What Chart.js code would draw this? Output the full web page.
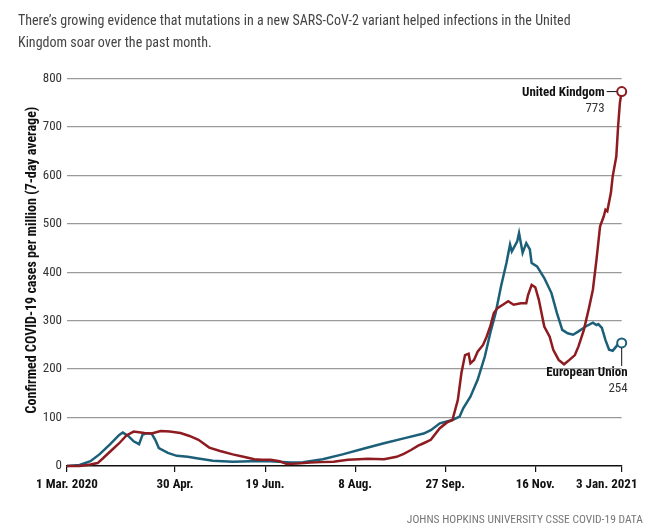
<!DOCTYPE html>
<html>
<head>
<meta charset="utf-8">
<script src="https://cdn.jsdelivr.net/npm/chart.js@4/dist/chart.umd.min.js"></script>
<style>
  body { margin: 0; background: #fff; }
  #wrap { position: relative; width: 658px; height: 532px; }
  #chart { position: absolute; left: 0; top: 0; }
  .note { position: absolute; font-family: 'Liberation Sans Narrow', 'Roboto Condensed', 'DejaVu Sans Condensed', sans-serif; }
  #title { left: 18px; top: 9px; width: 630px; font-size: 14px; line-height: 22px; color: #444; }
  #source { right: 15px; top: 512px; font-size: 11.5px; color: #777; }
</style>
</head>
<body>
<div id="wrap">
  <canvas id="chart" width="658" height="532"></canvas>
  <div id="title" class="note">There’s growing evidence that mutations in a new SARS-CoV-2 variant helped infections in the United<br>Kingdom soar over the past month.</div>
  <div id="source" class="note">JOHNS HOPKINS UNIVERSITY CSSE COVID-19 DATA</div>
</div>
<script>
// days since 1 Mar. 2020
const tickDays = [0, 60, 110, 160, 210, 260, 308];
const tickLabels = ['1 Mar. 2020', '30 Apr.', '19 Jun.', '8 Aug.', '27 Sep.', '16 Nov.', '3 Jan. 2021'];
const yTicks = [0, 100, 200, 300, 400, 500, 600, 700, 800];

const ukDays = [0, 7, 13, 17, 20, 24, 29, 33, 37, 43, 47, 52, 57, 63, 68, 73, 79, 85, 92, 98,
  104, 108, 113, 118, 122, 128, 135, 141, 148, 156, 162, 167, 176, 183, 187, 191, 195, 198, 202, 207,
  211, 214, 217, 219, 221, 223, 224, 226, 228, 231, 233, 235, 237, 239, 242, 245, 248, 252, 255, 256,
  258, 260, 262, 265, 268, 270, 273, 276, 279, 282, 284, 287, 290, 292, 294, 296, 298, 299, 300, 302,
  303, 305, 306, 307, 308];
const ukCases = [0, 0, 3, 6, 16, 30, 47, 63, 71, 68, 67, 72, 71, 68, 62, 54, 38, 31, 24, 19,
  14, 13, 13, 10, 4, 5, 7, 8, 9, 13, 14, 15, 14, 19, 25, 33, 42, 47, 54, 78,
  90, 95, 136, 192, 229, 232, 212, 219, 236, 250, 267, 288, 316, 326, 333, 340, 333, 336, 336, 353,
  374, 369, 343, 288, 267, 240, 219, 210, 219, 229, 247, 281, 329, 364, 426, 495, 515, 529, 526, 564,
  598, 639, 701, 750, 773];

const euDays = [0, 7, 13, 18, 24, 29, 31, 34, 37, 40, 42, 44, 47, 49, 51, 56, 61, 67, 72, 81,
  92, 102, 113, 124, 131, 142, 153, 165, 176, 187, 198, 202, 207, 214, 218, 220, 224, 228, 232, 235,
  238, 241, 244, 246, 247, 250, 251, 253, 255, 257, 258, 261, 265, 269, 272, 275, 278, 281, 284, 288,
  292, 294, 295, 297, 299, 301, 303, 305, 306, 308];
const euCases = [0, 2, 10, 24, 45, 64, 69, 62, 51, 45, 65, 67, 67, 54, 37, 27, 21, 19, 16, 11,
  9, 10, 10, 7, 8, 14, 24, 36, 47, 57, 67, 74, 88, 95, 102, 119, 143, 178, 226, 274,
  316, 371, 419, 457, 443, 464, 481, 440, 460, 447, 419, 412, 388, 357, 316, 281, 274, 271, 278, 288,
  296, 291, 293, 285, 260, 240, 238, 247, 252, 254];

const FONT = "'Liberation Sans Narrow', 'Roboto Condensed', 'DejaVu Sans Condensed', sans-serif";
const ukColor = '#8e1b20';
const euColor = '#1b5f79';

function lastPoint(ctx) {
  return ctx.dataIndex === ctx.dataset.data.length - 1 ? 4.5 : 0;
}

// end-of-line labels and the rotated y title
const annotations = {
  id: 'annotations',
  afterDatasetsDraw(chart) {
    const ctx = chart.ctx;
    const xs = chart.scales.x, ys = chart.scales.y;
    ctx.save();

    const ukX = xs.getPixelForValue(ukDays[ukDays.length - 1]);
    const ukY = ys.getPixelForValue(ukCases[ukCases.length - 1]);
    ctx.strokeStyle = '#111';
    ctx.lineWidth = 1;
    ctx.beginPath();
    ctx.moveTo(ukX - 15, ukY);
    ctx.lineTo(ukX - 5, ukY);
    ctx.stroke();
    ctx.textAlign = 'right';
    ctx.textBaseline = 'middle';
    ctx.fillStyle = '#111';
    ctx.font = 'bold 13px ' + FONT;
    ctx.fillText(chart.data.datasets[0].label, ukX - 17, ukY + 1);
    ctx.fillStyle = '#333';
    ctx.font = '13px ' + FONT;
    ctx.fillText(String(ukCases[ukCases.length - 1]), ukX - 17, ukY + 17);

    const euX = xs.getPixelForValue(euDays[euDays.length - 1]);
    const euY = ys.getPixelForValue(euCases[euCases.length - 1]);
    ctx.beginPath();
    ctx.moveTo(euX, euY + 5);
    ctx.lineTo(euX, euY + 23);
    ctx.stroke();
    ctx.fillStyle = '#111';
    ctx.font = 'bold 13px ' + FONT;
    ctx.fillText(chart.data.datasets[1].label, euX + 6, euY + 30);
    ctx.fillStyle = '#333';
    ctx.font = '13px ' + FONT;
    ctx.fillText(String(euCases[euCases.length - 1]), euX + 6, euY + 46);

    ctx.translate(32, 260);
    ctx.rotate(-Math.PI / 2);
    ctx.textAlign = 'center';
    ctx.fillStyle = '#111';
    ctx.font = 'bold 14px ' + FONT;
    ctx.fillText('Confirmed COVID-19 cases per million (7-day average)', 0, 0);
    ctx.restore();
  }
};

new Chart(document.getElementById('chart'), {
  type: 'line',
  data: {
    datasets: [{
      label: 'United Kindgom',
      data: ukDays.map((d, i) => ({ x: d, y: ukCases[i] })),
      borderColor: ukColor,
      borderWidth: 2.5,
      pointRadius: lastPoint,
      pointBorderWidth: 2,
      pointBorderColor: ukColor,
      pointBackgroundColor: '#fff',
      tension: 0,
      clip: false
    }, {
      label: 'European Union',
      data: euDays.map((d, i) => ({ x: d, y: euCases[i] })),
      borderColor: euColor,
      borderWidth: 2.5,
      pointRadius: lastPoint,
      pointBorderWidth: 2,
      pointBorderColor: euColor,
      pointBackgroundColor: '#fff',
      tension: 0,
      clip: false
    }]
  },
  options: {
    responsive: false,
    animation: false,
    layout: { padding: { top: 78.5, right: 36.3, left: 0, bottom: 0 } },
    plugins: { legend: { display: false }, tooltip: { enabled: false } },
    scales: {
      x: {
        type: 'linear',
        min: 0,
        max: 308,
        afterBuildTicks: scale => { scale.ticks = tickDays.map(v => ({ value: v })); },
        afterFit: scale => { scale.height = 66; scale.paddingLeft = 0; scale.paddingRight = 0; },
        grid: { drawOnChartArea: false, drawTicks: true, tickLength: 6, color: '#111', lineWidth: 1.2 },
        border: { display: true, color: '#111', width: 1.5 },
        ticks: {
          maxRotation: 0,
          autoSkip: false,
          padding: 5,
          color: '#111',
          font: { family: FONT, size: 13, weight: 'bold' },
          callback: (v, i) => i === tickLabels.length - 1 ? tickLabels[i] + '\u00a0'.repeat(10) : tickLabels[i]
        }
      },
      y: {
        min: 0,
        max: 800,
        afterBuildTicks: scale => { scale.ticks = yTicks.map(v => ({ value: v })); },
        afterFit: scale => { scale.width = 67; },
        grid: {
          drawTicks: false,
          color: ctx => ctx.tick && ctx.tick.value === 0 ? 'rgba(0,0,0,0)' : '#9a9a9a',
          lineWidth: 1.3
        },
        border: { display: false },
        ticks: {
          padding: 5,
          color: '#333',
          font: { family: FONT, size: 13 }
        }
      }
    }
  },
  plugins: [annotations]
});
</script>
</body>
</html>
